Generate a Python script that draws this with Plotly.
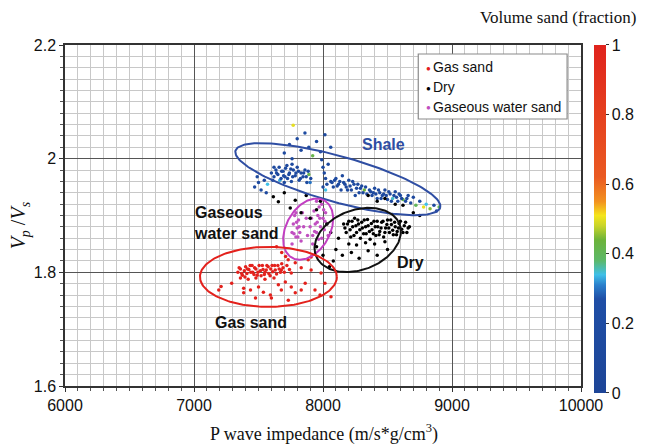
import numpy as np
import plotly.graph_objects as go

# ---------------- data ----------------
shale_x = [7600, 7620, 7635, 7650, 7665, 7680, 7695, 7710, 7725, 7740, 7755, 7770, 7785, 7800, 7815, 7830,
           7845, 7860, 7875, 7890, 7905, 7620, 7700, 7760,
           7610, 7640, 7660, 7675, 7690, 7705, 7720, 7735, 7750, 7765, 7790, 7810, 7825, 7850, 7870, 7885, 7900,
           7470, 7500, 7520, 7545, 7570, 7490, 7560,
           7700, 7740, 7769, 7800, 7830, 7860, 7890, 7920, 7950, 7980, 8015, 7760, 8060,
           7990, 8000, 8010, 8020, 8030, 8000, 8040, 8020,
           8060, 8080, 8100, 8120, 8140, 8160, 8180, 8200, 8220, 8240, 8260, 8280, 8300, 8320, 8340, 8150, 8250,
           8070, 8090, 8110, 8130, 8170, 8190, 8210, 8230, 8270, 8290, 8310, 8330,
           8360, 8380, 8400, 8420, 8440, 8460, 8480, 8500, 8520, 8540, 8560, 8580, 8600, 8620, 8650, 8680, 8700,
           8370, 8390, 8410, 8430, 8450, 8470, 8490, 8510, 8530, 8550, 8570, 8590, 8610, 8640, 8660,
           8720, 8750, 8780, 8800, 8830, 8860, 8880, 8900]
shale_y = [1.975, 1.968, 1.980, 1.972, 1.962, 1.978, 1.970, 1.983, 1.965, 1.975, 1.960, 1.980, 1.970, 1.985, 1.962, 1.975,
           1.968, 1.980, 1.958, 1.972, 1.965, 1.985, 1.958, 1.990,
           1.962, 1.975, 1.985, 1.965, 1.978, 1.968, 1.988, 1.972, 1.982, 1.968, 1.975, 1.978, 1.965, 1.975, 1.968, 1.978, 1.958,
           1.950, 1.958, 1.945, 1.962, 1.955, 1.968, 1.940,
           2.010, 2.025, 2.059, 2.035, 2.015, 2.045, 2.020, 2.005, 2.030, 2.012, 2.042, 2.000, 2.020,
           1.998, 1.985, 1.975, 1.965, 1.955, 1.950, 1.990, 1.945,
           1.960, 1.950, 1.965, 1.955, 1.945, 1.958, 1.950, 1.962, 1.945, 1.955, 1.948, 1.940, 1.952, 1.945, 1.938, 1.970, 1.935,
           1.958, 1.962, 1.952, 1.960, 1.955, 1.945, 1.952, 1.960, 1.955, 1.948, 1.940, 1.950,
           1.945, 1.935, 1.948, 1.930, 1.940, 1.935, 1.945, 1.928, 1.938, 1.930, 1.942, 1.925, 1.935, 1.928, 1.930, 1.922, 1.932,
           1.942, 1.940, 1.938, 1.945, 1.930, 1.938, 1.935, 1.942, 1.925, 1.935, 1.932, 1.938, 1.930, 1.925, 1.935,
           1.918, 1.925, 1.915, 1.920, 1.912, 1.918, 1.908, 1.915]
shale_v = [0.15, 0.12, 0.18, 0.10, 0.33, 0.15, 0.12, 0.20, 0.15, 0.10, 0.18, 0.12, 0.15, 0.10, 0.22, 0.15,
           0.12, 0.18, 0.15, 0.42, 0.12, 0.15, 0.12, 0.15,
           0.15, 0.12, 0.15, 0.12, 0.18, 0.15, 0.12, 0.15, 0.12, 0.15, 0.18, 0.12, 0.15, 0.12, 0.15, 0.12, 0.30,
           0.12, 0.15, 0.20, 0.12, 0.34, 0.15, 0.12,
           0.15, 0.12, 0.50, 0.15, 0.12, 0.18, 0.15, 0.42, 0.12, 0.15, 0.12, 0.15, 0.15,
           0.12, 0.15, 0.12, 0.18, 0.15, 0.12, 0.15, 0.34,
           0.15, 0.12, 0.18, 0.15, 0.12, 0.15, 0.10, 0.15, 0.12, 0.18, 0.15, 0.12, 0.15, 0.44, 0.15, 0.12, 0.15,
           0.12, 0.15, 0.12, 0.15, 0.12, 0.15, 0.12, 0.15, 0.12, 0.15, 0.12, 0.15,
           0.15, 0.12, 0.15, 0.18, 0.12, 0.15, 0.10, 0.15, 0.12, 0.35, 0.15, 0.12, 0.15, 0.42, 0.12, 0.15, 0.12,
           0.12, 0.15, 0.12, 0.15, 0.12, 0.15, 0.12, 0.15, 0.12, 0.15, 0.12, 0.15, 0.12, 0.15, 0.12,
           0.40, 0.15, 0.50, 0.34, 0.45, 0.12, 0.15, 0.40]

gas_x = [7340, 7360, 7375, 7390, 7400, 7410, 7425, 7440, 7450, 7465, 7480, 7495, 7505, 7520, 7535, 7550,
         7565, 7580, 7595, 7610, 7625, 7640, 7660, 7680, 7700, 7360, 7420, 7480, 7550, 7620,
         7350, 7370, 7395, 7415, 7435, 7455, 7470, 7490, 7515, 7530, 7545, 7560, 7575, 7590, 7605, 7630,
         7650, 7670, 7690, 7720, 7740,
         7192, 7210, 7292, 7385, 7385, 7438, 7500, 7538, 7592, 7654, 7677, 7708, 7754, 7785, 7831, 7862,
         7938, 7977, 8015, 8062, 7477, 7600, 7731,
         7640, 7680, 7710, 7730, 7785, 7885, 7908, 7831, 7908, 7985, 7754, 7677]
gas_y = [1.800, 1.806, 1.795, 1.803, 1.810, 1.798, 1.805, 1.800, 1.812, 1.796, 1.806, 1.800, 1.812, 1.794, 1.805, 1.800,
         1.812, 1.798, 1.806, 1.801, 1.812, 1.797, 1.806, 1.815, 1.800, 1.790, 1.788, 1.790, 1.788, 1.790,
         1.808, 1.798, 1.792, 1.806, 1.812, 1.800, 1.808, 1.795, 1.803, 1.812, 1.796, 1.804, 1.810, 1.794, 1.812, 1.804,
         1.812, 1.800, 1.808, 1.812, 1.805,
         1.769, 1.775, 1.781, 1.772, 1.764, 1.769, 1.774, 1.765, 1.760, 1.778, 1.769, 1.783, 1.774, 1.764, 1.769, 1.781,
         1.769, 1.760, 1.781, 1.757, 1.755, 1.755, 1.751,
         1.845, 1.835, 1.828, 1.822, 1.817, 1.822, 1.827, 1.808, 1.804, 1.799, 1.799, 1.804]

dry_x = [8160, 8180, 8200, 8215, 8230, 8245, 8260, 8275, 8290, 8305, 8320, 8335, 8350, 8365, 8380, 8395,
         8410, 8425, 8440, 8455, 8470, 8485, 8500, 8515, 8530, 8545, 8560, 8575, 8590, 8610, 8630, 8650, 8670,
         8170, 8190, 8210, 8225, 8240, 8255, 8270, 8285, 8300, 8315, 8330, 8345, 8360, 8375, 8390, 8405,
         8420, 8435, 8450, 8465, 8480, 8495, 8510, 8525, 8540, 8555, 8570, 8585, 8600, 8620, 8640, 8660,
         8200, 8260, 8330, 8400, 8480,
         8100, 8150, 8220, 8280, 8350, 8420, 8500, 8080, 8050, 8000, 7950, 8120, 8060, 8030,
         7615, 7654, 7746, 7785, 7700, 7830, 7870, 7900, 7950, 7980,
         8350, 8420, 8480, 8560, 8620, 8700, 8750]
dry_y = [1.885, 1.870, 1.890, 1.862, 1.880, 1.895, 1.870, 1.885, 1.860, 1.878, 1.892, 1.868, 1.882, 1.858, 1.875, 1.890,
         1.865, 1.880, 1.872, 1.888, 1.862, 1.878, 1.892, 1.870, 1.884, 1.866, 1.880, 1.872, 1.886, 1.876, 1.882, 1.870, 1.880,
         1.878, 1.885, 1.875, 1.890, 1.865, 1.882, 1.892, 1.875, 1.888, 1.868, 1.880, 1.893, 1.872, 1.886, 1.868, 1.880,
         1.890, 1.866, 1.878, 1.890, 1.870, 1.884, 1.878, 1.892, 1.874, 1.888, 1.866, 1.878, 1.890, 1.870, 1.888, 1.878,
         1.850, 1.848, 1.852, 1.850, 1.854,
         1.840, 1.830, 1.835, 1.825, 1.838, 1.830, 1.840, 1.820, 1.810, 1.830, 1.845, 1.860, 1.870, 1.885,
         1.933, 1.924, 1.913, 1.927, 1.940, 1.905, 1.935, 1.895, 1.910, 1.925,
         1.935, 1.925, 1.930, 1.920, 1.918, 1.905, 1.900]

gws_x = [7760, 7770, 7780, 7790, 7800, 7810, 7820, 7830, 7790, 7760, 7900, 7910, 7920, 7930, 7940, 7950,
         7960, 7970, 7980, 7990, 8000, 8010, 8020, 8030, 7850, 7870, 7880, 7950, 7990, 8040, 7840, 7920,
         7775, 7795, 7805, 7815, 7935, 7955, 7965, 7975, 8005, 8015]
gws_y = [1.870, 1.885, 1.900, 1.862, 1.878, 1.892, 1.870, 1.855, 1.905, 1.850, 1.880, 1.895, 1.865, 1.908, 1.885, 1.870,
         1.900, 1.915, 1.880, 1.860, 1.895, 1.875, 1.905, 1.885, 1.880, 1.895, 1.865, 1.925, 1.920, 1.865, 1.905, 1.850,
         1.868, 1.888, 1.862, 1.880, 1.872, 1.888, 1.858, 1.895, 1.910, 1.890]

# ellipse outlines: name, centre x, centre y (data), semi-axes (px), tilt (deg), colour
ellipse_names = ["Shale", "Gaseous water sand", "Dry", "Gas sand"]
ellipse_cx = [8115, 7885, 8269, 7577]
ellipse_cy = [1.964, 1.876, 1.857, 1.792]
ellipse_a = [107, 33, 45, 69]
ellipse_b = [23, 22, 30, 30]
ellipse_tilt = [-15.4, 60, 20, 0]
ellipse_colors = ["#2f4ea3", "#c23fc2", "#111111", "#e3211c"]

x_ticks = [6000, 7000, 8000, 9000, 10000]
y_ticks = [1.6, 1.8, 2.0, 2.2]

# ---------------- layout constants ----------------
W, H = 646, 447
ML, MR, MT, MB = 65, 61, 45, 61
PW, PH = W - ML - MR, H - MT - MB
XR, YR = [6000, 10000], [1.6, 2.2]
px_x = (XR[1] - XR[0]) / PW
px_y = (YR[1] - YR[0]) / PH


def paper(px, py):
    return (px - ML) / PW, (H - MB - py) / PH


colorscale = [[0.0, "#1d4597"], [0.27, "#1f4ea6"], [0.31, "#2a7fcc"], [0.34, "#3fc0e8"],
              [0.38, "#5cb86a"], [0.44, "#6cb33a"], [0.48, "#c8d42a"], [0.51, "#f5e51c"],
              [0.55, "#f29220"], [0.62, "#ea5a22"], [0.8, "#e5401f"], [1.0, "#e0231d"]]

fig = go.Figure()

fig.add_trace(go.Scatter(
    x=shale_x, y=shale_y, mode="markers", name="Shale", showlegend=False,
    marker=dict(size=3.5, color=shale_v, cmin=0, cmax=1, colorscale=colorscale, showscale=True,
                colorbar=dict(x=(598 - ML) / PW, xanchor="left", y=0.49, yanchor="middle",
                              len=1.02, lenmode="fraction", thickness=12, ypad=0, xpad=0,
                              outlinewidth=0, tickvals=[0, 0.2, 0.4, 0.6, 0.8, 1],
                              ticktext=["0", "0.2", "0.4", "0.6", "0.8", "1"],
                              ticks="outside", ticklen=3, tickcolor="#333",
                              tickfont=dict(family="Liberation Sans, Arial", size=16, color="#111")))))

fig.add_trace(go.Scatter(x=gas_x, y=gas_y, mode="markers", name="Gas sand", showlegend=False,
                         marker=dict(size=3.5, color="#e3211c")))
fig.add_trace(go.Scatter(x=gws_x, y=gws_y, mode="markers", name="Gaseous water sand", showlegend=False,
                         marker=dict(size=3.5, color="#c04fc0")))
fig.add_trace(go.Scatter(x=dry_x, y=dry_y, mode="markers", name="Dry", showlegend=False,
                         marker=dict(size=3.5, color="#000000")))

t = np.linspace(0, 2 * np.pi, 181)
for name, cx, cy, a, b, tilt, col in zip(ellipse_names, ellipse_cx, ellipse_cy, ellipse_a,
                                          ellipse_b, ellipse_tilt, ellipse_colors):
    th = np.deg2rad(tilt)
    dx = a * np.cos(t) * np.cos(th) - b * np.sin(t) * np.sin(th)
    dy = a * np.cos(t) * np.sin(th) + b * np.sin(t) * np.cos(th)
    fig.add_trace(go.Scatter(x=cx + dx * px_x, y=cy + dy * px_y, mode="lines", showlegend=False,
                             hoverinfo="skip", line=dict(color=col, width=2)))

ann = []
lab_font = dict(family="Liberation Sans, Arial", size=16, color="#111")
for text, (px, py), col, xa in [("Shale", (386, 144), "#2f4ea3", "center"),
                                ("Gaseous<br>water sand", (193, 223), "#111", "left"),
                                ("Dry", (413, 262), "#111", "center"),
                                ("Gas sand", (252, 322), "#111", "center")]:
    x, y = paper(px, py)
    ann.append(dict(x=x, y=y, xref="paper", yref="paper", text="<b>" + text + "</b>", showarrow=False,
                    xanchor=xa, yanchor="middle", align="left", font=dict(lab_font, color=col)))

# legend box
lx0, ly0 = paper(421, 119)
lx1, ly1 = paper(571, 54)
shapes = [dict(type="rect", xref="paper", yref="paper", x0=lx0, y0=ly0, x1=lx1, y1=ly1,
               fillcolor="white", line=dict(color="#8a8a8a", width=1.2), layer="above")]
for text, col, py in [("Gas sand", "#e3211c", 67), ("Dry", "#000000", 87), ("Gaseous water sand", "#c04fc0", 107)]:
    bx, by = paper(431, py)
    tx, ty = paper(434, py)
    ann.append(dict(x=bx, y=by, xref="paper", yref="paper", text="●", showarrow=False,
                    xanchor="center", yanchor="middle", font=dict(size=8, color=col)))
    ann.append(dict(x=tx, y=ty, xref="paper", yref="paper", text=text, showarrow=False,
                    xanchor="left", yanchor="middle",
                    font=dict(family="Liberation Sans, Arial", size=14, color="#111")))

# axis titles
x, y = paper(326, 433)
ann.append(dict(x=x, y=y, xref="paper", yref="paper", text="P wave impedance (m/s*g/cm<sup>3</sup>)",
                showarrow=False, xanchor="center", yanchor="middle",
                font=dict(family="Liberation Serif, Times New Roman", size=18, color="#111")))
x, y = paper(19, 225)
ann.append(dict(x=x, y=y, xref="paper", yref="paper", text="<i>V<sub>p</sub></i> /<i>V<sub>s</sub></i>",
                showarrow=False, xanchor="center", yanchor="middle", textangle=-90,
                font=dict(family="Liberation Serif, Times New Roman", size=20, color="#111")))
x, y = paper(562, 17)
ann.append(dict(x=x, y=y, xref="paper", yref="paper", text="Volume sand (fraction)",
                showarrow=False, xanchor="center", yanchor="middle",
                font=dict(family="Liberation Serif, Times New Roman", size=17, color="#111")))

axis_common = dict(showline=True, mirror=True, linecolor="#333", linewidth=1.5,
                   showgrid=True, gridcolor="#555", gridwidth=1, zeroline=False,
                   ticks="outside", ticklen=4, tickcolor="#333",
                   tickfont=dict(family="Liberation Sans, Arial", size=16, color="#111"))

fig.update_layout(
    width=W, height=H, margin=dict(l=ML, r=MR, t=MT, b=MB),
    paper_bgcolor="white", plot_bgcolor="white",
    xaxis=dict(axis_common, range=XR, tickvals=x_ticks, ticktext=[str(v) for v in x_ticks],
               minor=dict(dtick=100, showgrid=True, gridcolor="#c8c8c8", gridwidth=1,
                          ticks="outside", ticklen=3, tickcolor="#555")),
    yaxis=dict(axis_common, range=YR, tickvals=y_ticks, ticktext=["1.6", "1.8", "2", "2.2"],
               minor=dict(dtick=0.02, showgrid=True, gridcolor="#c8c8c8", gridwidth=1,
                          ticks="outside", ticklen=3, tickcolor="#555")),
    annotations=ann, shapes=shapes, showlegend=False,
)

fig.write_html("out.html")
